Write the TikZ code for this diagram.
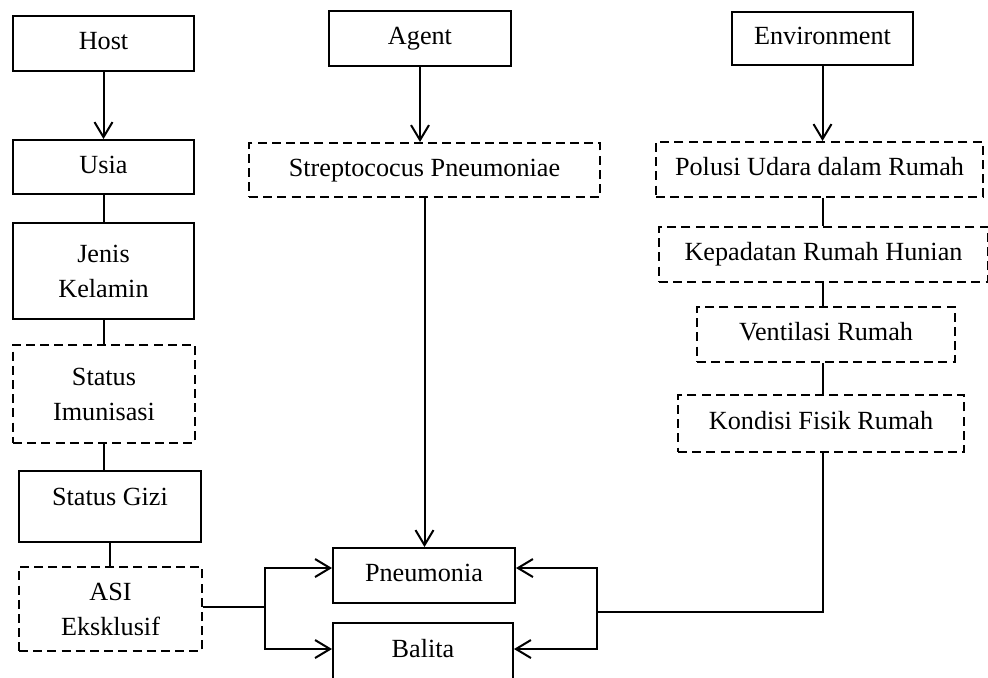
\documentclass[tikz,border=0pt]{standalone}
\usepackage{fontspec}
\setmainfont{Liberation Serif}
\usetikzlibrary{arrows.meta}

\begin{document}
\begin{tikzpicture}[
  x=0.5pt, y=-0.5pt,
  box/.style={draw, line width=1pt, align=center, inner sep=2pt,
              font=\fontsize{13.1}{17.5}\selectfont},
  dbox/.style={box, dash pattern=on 4.5pt off 2.6pt},
  single/.style={text height=9.3pt, text depth=2.9pt},
  arrow/.style={-{Straight Barb[length=7.5pt, width=9pt]}, line width=1pt},
  link/.style={line width=1pt}
]
\useasboundingbox (0,0) rectangle (988,677);

% host column
\node[box, single, minimum width=90.5pt, minimum height=27.5pt] (host)  at (103.5,43.5) {Host};
\node[box, single, minimum width=90.5pt, minimum height=27pt]   (usia)  at (103.5,167)  {Usia};
\node[box, minimum width=90.5pt, minimum height=48pt]           (jenis) at (103.5,271)  {Jenis\\Kelamin};
\node[dbox, minimum width=91pt, minimum height=49pt]            (imun)  at (104,394)    {Status\\Imunisasi};
\node[box, single, minimum width=91pt, minimum height=35.5pt, text depth=10.5pt] (gizi) at (110,506.5) {Status Gizi};
\node[dbox, minimum width=91.5pt, minimum height=42pt]          (asi)   at (110.5,609)  {ASI\\Eksklusif};

% agent column
\node[box, single, minimum width=91pt, minimum height=27.5pt]   (agent) at (420,38.5)   {Agent};
\node[dbox, single, minimum width=175.5pt, minimum height=27pt] (strep) at (424.5,170)  {Streptococus Pneumoniae};
\node[box, single, minimum width=91pt, minimum height=27.5pt]   (pneu)  at (424,575.5)  {Pneumonia};
\node[box, single, minimum width=90pt, minimum height=28.5pt]   (bal)   at (423,651.5)  {Balita};

% environment column
\node[box, single, minimum width=90.5pt, minimum height=26.5pt]   (env)    at (822.5,38.5)  {Environment};
\node[dbox, single, minimum width=163.5pt, minimum height=27.5pt] (polusi) at (819.5,169.5) {Polusi Udara dalam Rumah};
\node[dbox, single, minimum width=164.5pt, minimum height=27.5pt] (kepad)  at (823.5,254.5) {Kepadatan Rumah Hunian};
\node[dbox, single, minimum width=129pt, minimum height=27.5pt]   (vent)   at (826,334.5)   {Ventilasi Rumah};
\node[dbox, single, minimum width=143pt, minimum height=28.5pt]   (kond)   at (821,423.5)   {Kondisi Fisik Rumah};

\coordinate (jl) at (265,607);
\coordinate (jr) at (597,612);

\draw[arrow] (host) -- (usia);
\draw[link] (usia) -- (jenis);
\draw[link] (jenis.south) -- (jenis.south |- imun.north);
\draw[link] (imun.south) -- (imun.south |- gizi.north);
\draw[link] (gizi.south) -- (gizi.south |- asi.north);

\draw[arrow] (agent.south) -- (agent.south |- strep.north);
\draw[arrow] (strep.south) -- (strep.south |- pneu.north);

\draw[arrow] (env.south) -- (env.south |- polusi.north);
\draw[link] (env.south |- polusi.south) -- (env.south |- kepad.north);
\draw[link] (env.south |- kepad.south) -- (env.south |- vent.north);
\draw[link] (env.south |- vent.south) -- (env.south |- kond.north);
\draw[link] (env.south |- kond.south) |- (jr);

\draw[link] (asi.east |- jl) -- (jl);
\draw[arrow] (jl) |- ([yshift=3.75pt]pneu.west);
\draw[arrow] (jl) |- ([yshift=1.25pt]bal.west);
\draw[arrow] (jr) |- ([yshift=3.75pt]pneu.east);
\draw[arrow] (jr) |- ([yshift=1.25pt]bal.east);
\end{tikzpicture}
\end{document}
